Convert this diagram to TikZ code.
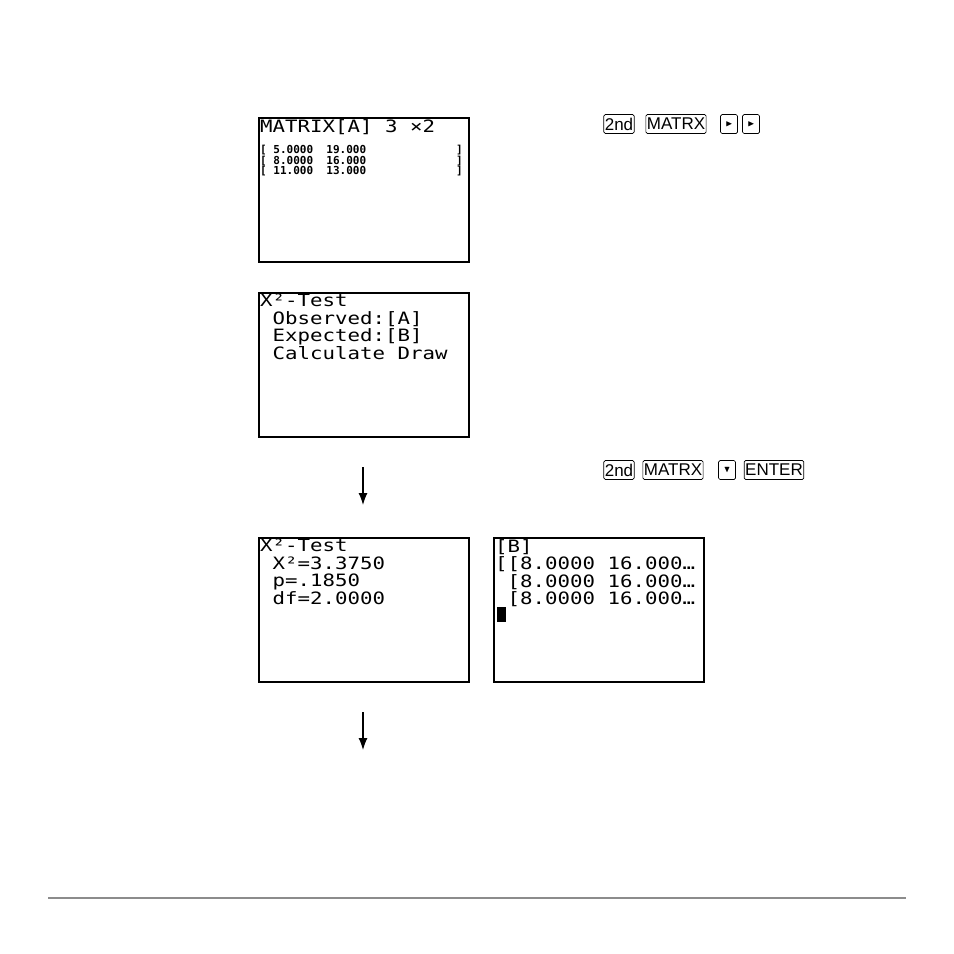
\documentclass[tikz,border=0pt]{standalone}
\usepackage{amssymb}
\usepackage{fontspec}
\setmainfont{Liberation Sans}
\newfontfamily\lcd{DejaVu Sans Mono}
\usetikzlibrary{positioning,arrows.meta}
\begin{document}
\begin{tikzpicture}
    [
      x=1pt,
      y=-1pt,
      screen/.style={rectangle,draw=black,line width=1.6pt,anchor=north west,minimum width=210pt,minimum height=144pt},
      lcdtext/.style={anchor=north west,inner sep=0pt,xscale=1.22,font=\lcd\fontsize{17}{17.5}\selectfont,align=left},
      lcdsmall/.style={anchor=north west,inner sep=0pt,align=left,font=\lcd\bfseries\fontsize{11}{10.5}\selectfont},
      keybox/.style={rectangle,draw=black,rounded corners=1.5pt,line width=0.7pt,inner sep=1pt,minimum height=19pt,font=\fontsize{17}{17}\selectfont},
      arrowkey/.style={keybox,minimum width=17pt,font=\small},
      flow/.style={-{Latex[length=12pt,width=9pt]},line width=1.2pt},
    ]
    \useasboundingbox (0,0) rectangle (954,954);

    % screens
    \node at (258,117) [screen] (s1) {};
    \node at (258,292) [screen] (s2) {};
    \node at (258,537) [screen] (s3) {};
    \node at (493,537) [screen] (s4) {};

    \node at (260,119) [lcdtext] (t1) {MATRIX[A] 3 ×2};
    \node at (260,145) [lcdsmall] (t1b)
      {{}[ 5.0000\ \ 19.000\\{}[ 8.0000\ \ 16.000\\{}[ 11.000\ \ 13.000};
    \node at (456,145) [lcdsmall] (t1c) {]\\]\\]};
    \node at (260,294) [lcdtext] (t2) {X²-Test\\\ Observed:[A]\\\ Expected:[B]\\\ Calculate Draw};
    \node at (260,539) [lcdtext] (t3) {X²-Test\\\ X²=3.3750\\\ p=.1850\\\ df=2.0000};
    \node at (495,539) [lcdtext] (t4) {[B]\\{}[[8.0000 16.000…\\\ [8.0000 16.000…\\\ [8.0000 16.000…};
    \fill (497,607) rectangle (506,622);

    % keys
    \node at (619,124) [keybox] (k1) {2nd};
    \node at (676,124) [keybox] (k2) {MATRX};
    \node at (729,124) [arrowkey] (k3) {$\blacktriangleright$};
    \node at (751,124) [arrowkey] (k4) {$\blacktriangleright$};
    \node at (619,470) [keybox] (k5) {2nd};
    \node at (673,470) [keybox] (k6) {MATRX};
    \node at (727,470) [arrowkey] (k7) {$\blacktriangledown$};
    \node at (774,470) [keybox] (k8) {ENTER};

    % arrows
    \coordinate (a1) at (363,467);
    \coordinate (a2) at (363,505);
    \coordinate (b1) at (363,712);
    \coordinate (b2) at (363,750);
    \draw[flow] (a1) -- (a2);
    \draw[flow] (b1) -- (b2);

    \coordinate (r1) at (48,898);
    \coordinate (r2) at (906,898);
    \draw[black!45,line width=2pt] (r1) -- (r2);
  \end{tikzpicture}
\end{document}
